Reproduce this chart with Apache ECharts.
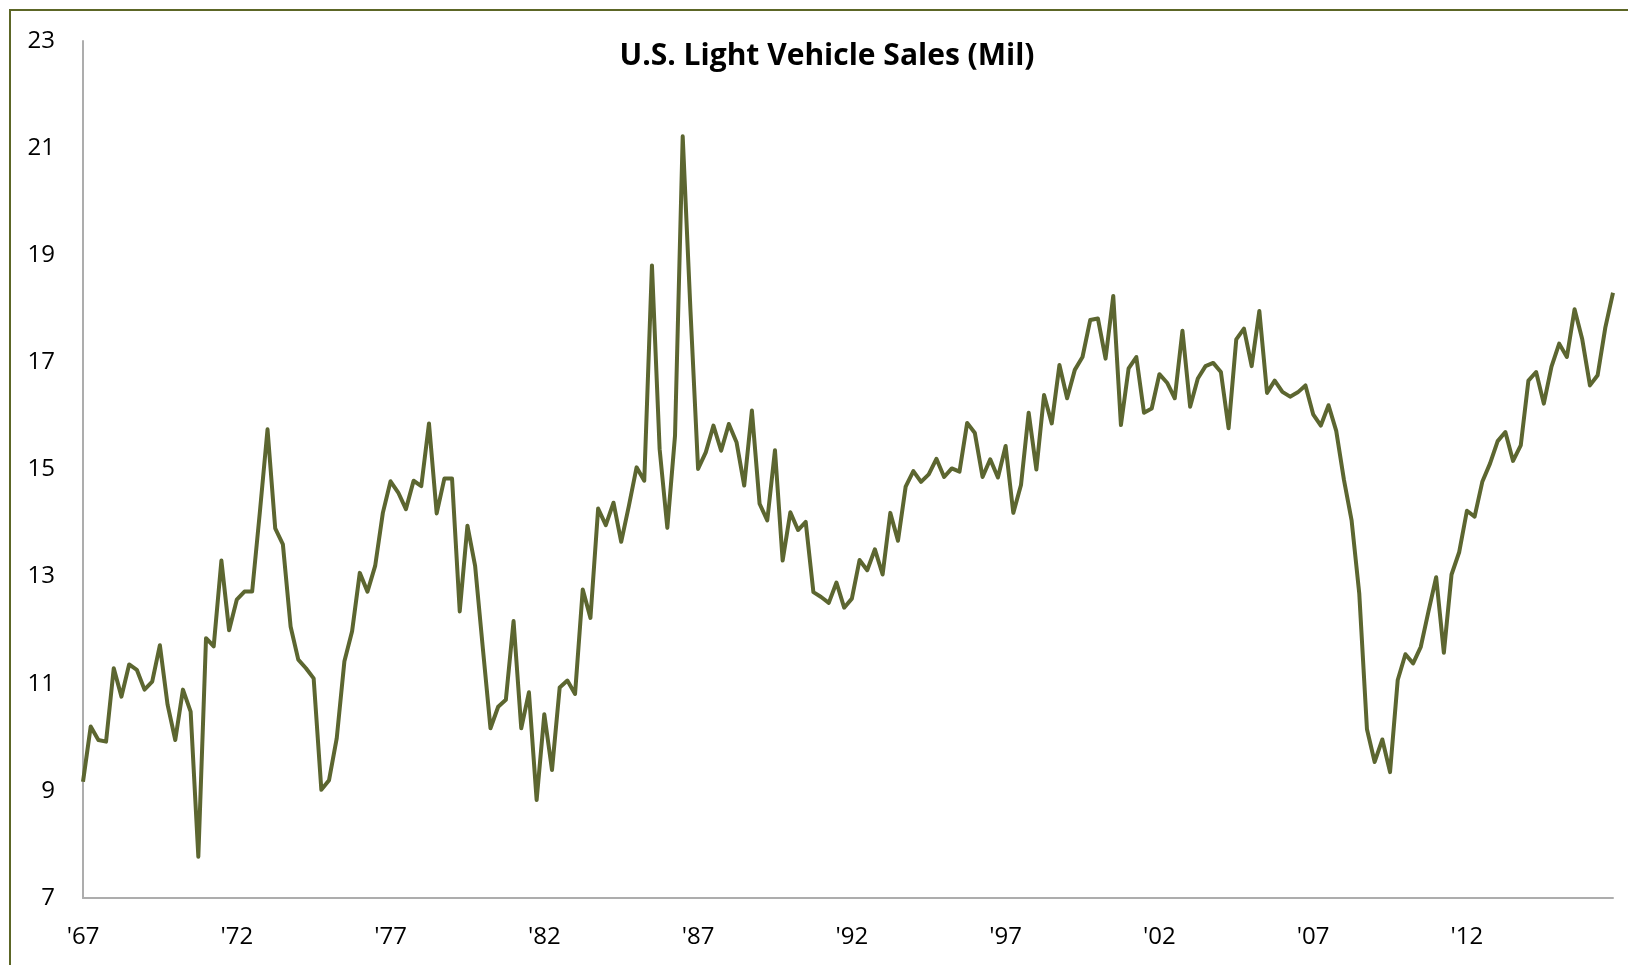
<!DOCTYPE html>
<html>
<head>
<meta charset="utf-8">
<title>U.S. Light Vehicle Sales</title>
<script src="https://cdn.jsdelivr.net/npm/echarts@6/dist/echarts.min.js"></script>
<style>
  html, body { margin: 0; padding: 0; background: #fff; overflow: hidden; }
  #frame { position: absolute; left: 9px; top: 9px; width: 1700px; height: 1000px; border: 2px solid #5c6626; box-sizing: border-box; }
  #main { position: absolute; left: 0; top: 0; width: 1628px; height: 965px; }
</style>
</head>
<body>
<div id="frame"></div>
<div id="main"></div>
<script>
// quarterly, 1967 Q1 .. 2016 Q4
const firstYear = 1967;
const lastYear = 2016;
const tickLabels = ["'67", "'72", "'77", "'82", "'87", "'92", "'97", "'02", "'07", "'12"];

// light vehicle sales, millions (SAAR)
const sales = [
  9.17, 10.2, 9.95, 9.92, 11.29, 10.76, 11.36, 11.26, 10.89, 11.04,
  11.72, 10.61, 9.95, 10.89, 10.48, 7.77, 11.85, 11.7, 13.3, 12.0,
  12.57, 12.72, 12.72, 14.2, 15.75, 13.9, 13.6, 12.07, 11.45, 11.29,
  11.1, 9.02, 9.2, 9.98, 11.42, 11.98, 13.07, 12.72, 13.2, 14.19,
  14.78, 14.57, 14.26, 14.79, 14.69, 15.86, 14.18, 14.83, 14.83, 12.35,
  13.95, 13.2, 11.67, 10.17, 10.57, 10.7, 12.17, 10.17, 10.84, 8.83,
  10.43, 9.39, 10.93, 11.06, 10.81, 12.76, 12.23, 14.27, 13.96, 14.38,
  13.65, 14.32, 15.04, 14.79, 18.81, 15.38, 13.91, 15.63, 21.22, 18.0,
  15.01, 15.32, 15.82, 15.35, 15.85, 15.51, 14.7, 16.1, 14.36, 14.05,
  15.36, 13.3, 14.2, 13.87, 14.02, 12.71, 12.62, 12.51, 12.89, 12.42,
  12.59, 13.31, 13.12, 13.51, 13.04, 14.19, 13.67, 14.68, 14.97, 14.77,
  14.91, 15.2, 14.86, 15.02, 14.96, 15.87, 15.68, 14.86, 15.19, 14.85,
  15.44, 14.19, 14.71, 16.06, 15.0, 16.39, 15.86, 16.95, 16.33, 16.86,
  17.1, 17.79, 17.82, 17.07, 18.24, 15.83, 16.89, 17.1, 16.06, 16.14,
  16.78, 16.62, 16.33, 17.59, 16.17, 16.7, 16.93, 16.99, 16.82, 15.77,
  17.43, 17.63, 16.93, 17.96, 16.43, 16.66, 16.45, 16.36, 16.44, 16.57,
  16.03, 15.82, 16.2, 15.72, 14.81, 14.05, 12.68, 10.15, 9.54, 9.96,
  9.35, 11.07, 11.55, 11.38, 11.69, 12.35, 12.99, 11.58, 13.04, 13.46,
  14.23, 14.12, 14.77, 15.11, 15.53, 15.7, 15.16, 15.45, 16.66, 16.82,
  16.23, 16.92, 17.35, 17.1, 17.99, 17.43, 16.57, 16.76, 17.65, 18.3
];

const quarters = [];
for (let y = firstYear; y <= lastYear; y++) {
  for (let q = 1; q <= 4; q++) quarters.push(y + 'Q' + q);
}

let myChart = echarts.init(document.getElementById('main'));
myChart.setOption({
  animation: false,
  title: {
    text: 'U.S. Light Vehicle Sales (Mil)',
    left: 822,
    top: 36,
    textAlign: 'center',
    textStyle: { fontFamily: 'Open Sans', fontWeight: 'bold', fontSize: 30, color: '#000' }
  },
  grid: { left: 83, right: 15, top: 41, bottom: 67 },
  xAxis: {
    type: 'category',
    data: quarters,
    boundaryGap: false,
    axisLine: { lineStyle: { color: '#adadad', width: 2 } },
    axisTick: { show: false },
    axisLabel: {
      interval: function (idx) { return idx % 20 === 0; },
      formatter: function (val, idx) { return tickLabels[idx / 20] || ''; },
      margin: 27,
      fontFamily: 'Open Sans',
      fontSize: 24,
      color: '#000'
    },
    splitLine: { show: false }
  },
  yAxis: {
    type: 'value',
    min: 7,
    max: 23,
    interval: 2,
    axisLine: { show: true, lineStyle: { color: '#adadad', width: 2 } },
    axisTick: { show: false },
    axisLabel: { margin: 28, fontFamily: 'Open Sans', fontSize: 24, color: '#000' },
    splitLine: { show: false }
  },
  series: [{
    name: 'Sales',
    type: 'line',
    data: sales,
    showSymbol: false,
    lineStyle: { color: '#5c6630', width: 4, join: 'round' }
  }]
});
</script>
</body>
</html>
